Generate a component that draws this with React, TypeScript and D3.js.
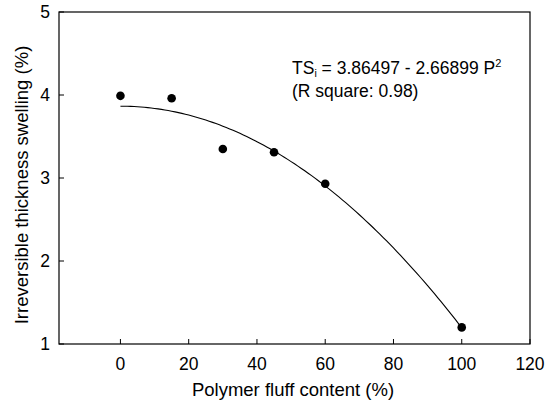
import React from "react";
import * as d3 from "d3";

const fluffContent = [0, 15, 30, 45, 60, 100];
const swelling = [3.99, 3.96, 3.35, 3.31, 2.93, 1.2];
const xTicks = [0, 20, 40, 60, 80, 100, 120];
const yTicks = [1, 2, 3, 4, 5];
const fitIntercept = 3.86497;
const fitSlope = 2.66899;

const W = 546;
const H = 411;
const font = "'Liberation Sans', Arial, sans-serif";

export default function App() {
  const x = d3.scaleLinear().domain([-18, 120]).range([59, 530]);
  const y = d3.scaleLinear().domain([1, 5]).range([344, 12]);
  const fitX = d3.range(0, 100.01, 1);
  const line = d3
    .line<number>()
    .x((d) => x(d))
    .y((d) => y(fitIntercept - fitSlope * Math.pow(d / 100, 2)));

  return (
    <svg
      width={W}
      height={H}
      style={{ position: "absolute", left: 0, top: 0, background: "#fff" }}
      fontFamily={font}
    >
      <rect x={59} y={12} width={471} height={332} fill="none" stroke="#000" strokeWidth={1.2} />
      {yTicks.map((t) => (
        <g key={"y" + t}>
          <line x1={59} x2={64} y1={y(t)} y2={y(t)} stroke="#000" />
          <text x={50} y={y(t)} textAnchor="end" dominantBaseline="central" fontSize={17.5}>
            {t}
          </text>
        </g>
      ))}
      {xTicks.map((t) => (
        <g key={"x" + t}>
          <line x1={x(t)} x2={x(t)} y1={344} y2={339} stroke="#000" />
          <text x={x(t)} y={364} textAnchor="middle" dominantBaseline="central" fontSize={17.5}>
            {t}
          </text>
        </g>
      ))}
      <path d={line(fitX) || ""} fill="none" stroke="#000" strokeWidth={1.1} />
      {fluffContent.map((c, i) => (
        <circle key={c} cx={x(c)} cy={y(swelling[i])} r={4.3} fill="#000" />
      ))}
      <text x={293} y={396} textAnchor="middle" fontSize={18.5}>
        Polymer fluff content (%)
      </text>
      <text
        transform={`translate(28, 185) rotate(-90)`}
        textAnchor="middle"
        fontSize={18.5}
      >
        Irreversible thickness swelling (%)
      </text>
      <text x={292} y={74} fontSize={17.5}>
        TS<tspan fontSize={10.5} dy={3}>i</tspan>
        <tspan dy={-3}> = 3.86497 - 2.66899 P</tspan>
        <tspan fontSize={11} dy={-7}>2</tspan>
      </text>
      <text x={292} y={97} fontSize={17.5}>
        (R square: 0.98)
      </text>
    </svg>
  );
}
